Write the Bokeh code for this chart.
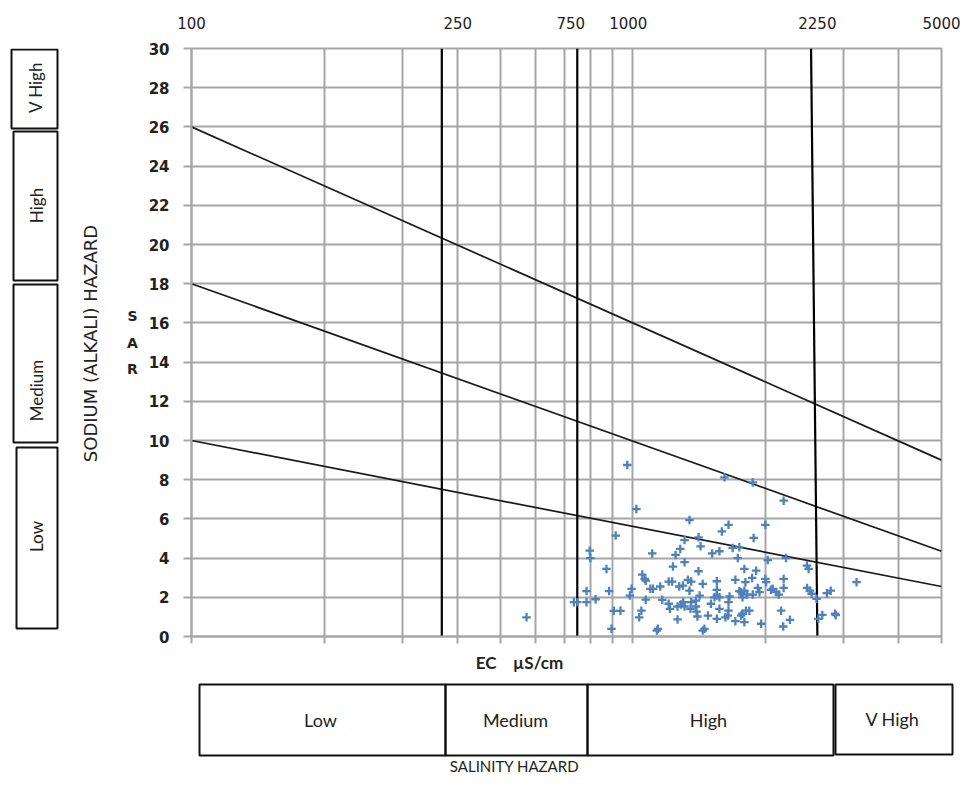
from math import pi
from bokeh.plotting import figure
from bokeh.layouts import row, column
from bokeh.models import FixedTicker, LogAxis, Range1d
from bokeh.core.properties import value
from bokeh.embed import file_html
from bokeh.resources import INLINE

# ---------------- data ----------------
ec = [574, 971, 1018, 914, 798, 801, 871, 785, 883, 735, 748, 785, 823, 905, 937, 894,
      993, 984, 1033, 1045,
      1343, 1646, 1590, 1408, 1423, 1309, 1280, 1106, 1249, 1512, 1570, 1682, 1742, 1728,
      1788, 1309, 1232, 1408, 1050, 1063, 1069, 1205, 1227, 1332, 1355, 1439, 1549, 1706,
      1798, 1095, 1110, 1153, 1273, 1298, 1343, 1549, 1549, 1570, 1530, 1655, 1646, 1742,
      1788, 1069, 1165, 1205, 1213, 1262, 1285, 1300, 1309, 1355, 1350, 1389, 1389, 1393,
      1400, 1416, 1479, 1502, 1570, 1549, 1620, 1641, 1706, 1771, 1262, 1139, 1133, 1452,
      1439,
      1612, 1868, 2195, 1995, 1877, 2020, 2222, 2478, 2500, 1901, 1862, 1995, 2003, 2195,
      2195, 1918, 1935, 2054, 2113, 2140, 1815, 1868, 1758, 1771, 2480, 2517, 2540, 2606,
      2750, 2806, 3210, 2166, 2268, 2190, 1952, 1788, 1803, 1835, 2685, 2870, 2880, 2630,
      1758, 1646, 2073]
sar = [0.98, 8.75, 6.5, 5.15, 4.38, 4.0, 3.45, 2.32, 2.32, 1.75, 1.75, 1.75, 1.9, 1.31, 1.31, 0.39,
       2.43, 2.09, 0.98, 1.32,
       5.94, 5.7, 5.36, 5.06, 4.6, 4.92, 4.47, 4.24, 4.16, 4.24, 4.35, 4.52, 4.55, 4.0,
       3.45, 3.79, 3.57, 3.33, 3.16, 2.94, 2.85, 2.8, 2.8, 2.89, 2.8, 2.68, 2.82, 2.89,
       2.77, 2.43, 2.43, 2.55, 2.55, 2.6, 2.34, 2.38, 2.09, 2.0, 2.0, 2.04, 1.75, 2.31,
       2.34, 1.88, 1.87, 1.67, 1.41, 1.53, 1.63, 1.75, 1.53, 1.75, 1.41, 1.83, 1.53, 1.27,
       1.02, 2.09, 1.07, 1.67, 1.41, 0.9, 0.98, 1.07, 0.78, 1.16, 0.87, 0.39, 0.3, 0.39,
       0.3,
       8.12, 7.86, 6.93, 5.7, 5.03, 3.9, 4.0, 3.62, 3.45, 3.36, 2.99, 2.94, 2.77, 2.94,
       2.48, 2.48, 2.26, 2.38, 2.26, 2.14, 2.14, 2.14, 2.26, 2.0, 2.48, 2.34, 2.18, 1.92,
       2.21, 2.34, 2.77, 1.32, 0.85, 0.51, 0.65, 0.73, 1.32, 1.32, 1.1, 1.16, 1.09, 0.9,
       1.07, 1.32, 2.43]

grid_ec = [100, 200, 300, 400, 500, 600, 700, 800, 900, 1000, 2000, 3000, 4000, 5000]
sar_ticks = list(range(0, 31, 2))

hazard_line_ec = [100, 5000]
hazard_line_sar = [[26, 9.0], [18, 4.35], [10, 2.55]]

salinity_bound_bottom = [369, 748, 2617]
salinity_bound_top = [369, 748, 2532]

top_tick_labels = ["100", "250", "750", "1000", "2250", "5000"]
top_tick_at = [100, 401, 723, 976, 2617, 5000]   # where each label sits on the EC scale
salinity_classes = ["Low", "Medium", "High", "V High"]
sodium_classes = ["V High", "High", "Medium", "Low"]

# ---------------- layout constants (pixels) ----------------
GRID = "#a6a6a6"
TXT = "#222222"
BOX = "#111111"
TOTAL_W, TOTAL_H = 961, 774
LEFT_W, MAIN_H = 141, 650
FRAME_TOP, FRAME_H = 48, 588
BOTTOM_H = TOTAL_H - MAIN_H
sodium_boxes = dict(left=[11, 13, 13, 16], right=[57, 57, 57, 57],
                    top=[49, 131, 284, 447], bottom=[128, 280, 442, 628])
sodium_text_xy = ([35, 36, 36, 36], [87, 205, 390, 536])
salinity_boxes = dict(left=[199, 445, 587, 835], right=[445, 587, 833, 952],
                      top=[684, 684, 684, 684], bottom=[755, 755, 755, 754])
salinity_text_xy = ([320, 515, 708, 892], [719, 719, 719, 718])


def strip(f):
    f.outline_line_color = None
    f.xgrid.visible = False
    f.ygrid.visible = False
    return f


# ---------------- main chart ----------------
p = figure(x_axis_type="log", x_range=(100, 5000), y_range=(0, 30),
           frame_width=750, frame_height=FRAME_H,
           min_border_left=50, min_border_right=20, min_border_top=FRAME_TOP,
           min_border_bottom=MAIN_H - FRAME_TOP - FRAME_H,
           output_backend="svg", toolbar_location=None, title=None)

p.xaxis.ticker = FixedTicker(ticks=grid_ec)
p.xaxis.major_label_text_font_size = "0px"
p.xaxis.major_label_standoff = 0
p.xaxis.major_tick_out = 7
p.xaxis.major_tick_in = 0
p.xaxis.minor_tick_out = 0
p.xaxis.minor_tick_in = 0
p.xaxis.axis_line_color = GRID
p.xaxis.major_tick_line_color = GRID
p.xaxis.major_tick_line_width = 2
p.xaxis.axis_line_width = 2

top_axis = LogAxis(ticker=FixedTicker(ticks=top_tick_at),
                   major_label_overrides={t: s for t, s in zip(top_tick_at, top_tick_labels)},
                   major_tick_out=0, major_tick_in=0, minor_tick_out=0, minor_tick_in=0,
                   axis_line_color=None, major_label_standoff=20,
                   major_label_text_font="DejaVu Sans", major_label_text_font_size="15px",
                   major_label_text_color=TXT)
p.add_layout(top_axis, "above")

p.yaxis.ticker = FixedTicker(ticks=sar_ticks)
p.yaxis.major_tick_out = 8
p.yaxis.major_tick_in = 0
p.yaxis.minor_tick_out = 0
p.yaxis.axis_line_color = GRID
p.yaxis.axis_line_width = 2
p.yaxis.major_tick_line_color = GRID
p.yaxis.major_tick_line_width = 2
p.yaxis.major_label_standoff = 14
p.yaxis.major_label_text_font = "DejaVu Sans"
p.yaxis.major_label_text_font_style = "bold"
p.yaxis.major_label_text_font_size = "15px"
p.yaxis.major_label_text_color = TXT

p.xgrid.ticker = FixedTicker(ticks=grid_ec)
p.ygrid.ticker = FixedTicker(ticks=sar_ticks)
for g in (p.xgrid, p.ygrid):
    g.grid_line_color = GRID
    g.grid_line_width = 2
p.outline_line_color = GRID
p.outline_line_width = 2

p.multi_line(xs=[hazard_line_ec] * len(hazard_line_sar), ys=hazard_line_sar,
             line_color="#1a1a1a", line_width=1.7)
p.segment(x0=salinity_bound_bottom, y0=[0] * 3, x1=salinity_bound_top, y1=[30] * 3,
          line_color="black", line_width=2.2)
p.scatter(ec, sar, marker="cross", size=8.5, line_width=2.3, color="#4F81BD")

# ---------------- left panel: sodium hazard classes ----------------
left = figure(frame_width=LEFT_W, frame_height=FRAME_H,
              min_border_left=0, min_border_right=0, min_border_top=FRAME_TOP,
              min_border_bottom=MAIN_H - FRAME_TOP - FRAME_H,
              x_range=Range1d(0, LEFT_W), y_range=Range1d(FRAME_TOP + FRAME_H, FRAME_TOP),
              x_axis_location=None, y_axis_location=None, toolbar_location=None,
              output_backend="svg", title=None)
strip(left)
left.quad(fill_alpha=0, line_color=BOX, line_width=2, **sodium_boxes)
left.text(x=sodium_text_xy[0], y=sodium_text_xy[1], text=sodium_classes, angle=pi / 2,
          text_font=value("Lato"), text_font_size=value("17px"), text_color=TXT,
          text_align=value("center"), text_baseline=value("middle"))
left.text(x=[90], y=[343], text=["SODIUM (ALKALI) HAZARD"], angle=pi / 2,
          text_font=value("DejaVu Sans"), text_font_size=value("18px"), text_color=TXT,
          text_align=value("center"), text_baseline=value("middle"))
left.text(x=[132, 132, 132], y=[315, 342, 368], text=["S", "A", "R"],
          text_font=value("DejaVu Sans"), text_font_style=value("bold"),
          text_font_size=value("14px"), text_color=TXT,
          text_align=value("center"), text_baseline=value("middle"))

# ---------------- bottom panel: salinity hazard classes ----------------
bottom = figure(width=TOTAL_W, height=BOTTOM_H, min_border=0,
                x_range=Range1d(0, TOTAL_W), y_range=Range1d(TOTAL_H, MAIN_H),
                x_axis_location=None, y_axis_location=None, toolbar_location=None,
                output_backend="svg", title=None)
bottom.min_border_left = bottom.min_border_right = 0
bottom.min_border_top = bottom.min_border_bottom = 0
strip(bottom)
bottom.quad(fill_alpha=0, line_color=BOX, line_width=2, **salinity_boxes)
bottom.text(x=salinity_text_xy[0], y=salinity_text_xy[1], text=salinity_classes,
            text_font=value("Lato"), text_font_size=value("18px"), text_color=TXT,
            text_align=value("center"), text_baseline=value("middle"))
bottom.text(x=[519], y=[662], text=["EC\u00a0\u00a0\u00a0\u00a0µS/cm"],
            text_font=value("Lato"), text_font_style=value("bold"),
            text_font_size=value("17px"), text_color=TXT,
            text_align=value("center"), text_baseline=value("middle"))
bottom.text(x=[514], y=[765], text=["SALINITY HAZARD"],
            text_font=value("Lato"), text_font_size=value("15px"), text_color=TXT,
            text_align=value("center"), text_baseline=value("middle"))

layout = column(row(left, p, spacing=0), bottom, spacing=0)
open("out.html", "w").write(file_html(layout, INLINE))
